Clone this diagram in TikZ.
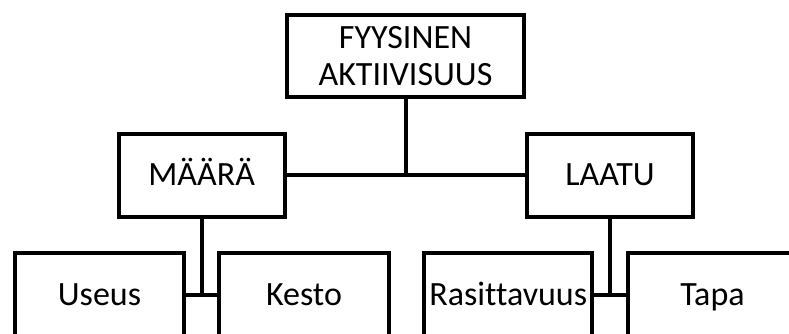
\documentclass[tikz,border=0pt]{standalone}
\usepackage{fontspec}
\setmainfont[Ligatures=NoCommon]{Carlito}
\begin{document}
\begin{tikzpicture}[x=1pt,y=-1pt,
  box/.style={draw=black,line width=4pt,rectangle,minimum height=85pt,inner sep=0pt,
    font=\fontsize{34}{37}\selectfont,align=center,text=black},
  one/.style={box,text height=21.5pt,text depth=0pt},
  conn/.style={draw=black,line width=4pt}]
\useasboundingbox (0,0) rectangle (789,334);
\clip (0,0) rectangle (789,334);
\fill[white] (0,0) rectangle (789,334);
\node[box,minimum width=237pt,minimum height=81.5pt] (top) at (405.5,56.25) {FYYSINEN\\AKTIIVISUUS};
\node[one,minimum width=166pt,minimum height=83pt] (maara) at (201.7,175) {MÄÄRÄ};
\node[one,minimum width=166pt,minimum height=83pt] (laatu) at (610,175) {LAATU};
\node[one,minimum width=168.4pt] (useus) at (99.5,295.2) {Useus};
\node[one,minimum width=169.4pt] (kesto) at (304,295.2) {Kesto};
\node[one,minimum width=167.7pt] (rasit) at (508.2,295.2) {Rasittavuus};
\node[one,minimum width=169pt] (tapa) at (712.5,295.2) {Tapa};
\coordinate (j1) at (top.south |- maara.east);
\coordinate (j2) at (maara.south |- useus.east);
\coordinate (j3) at (laatu.south |- rasit.east);
\draw[conn] (maara.east) -- (laatu.west);
\draw[conn] (top.south) -- (j1);
\draw[conn] (useus.east) -- (kesto.west);
\draw[conn] (maara.south) -- (j2);
\draw[conn] (rasit.east) -- (tapa.west);
\draw[conn] (laatu.south) -- (j3);
\end{tikzpicture}
\end{document}
